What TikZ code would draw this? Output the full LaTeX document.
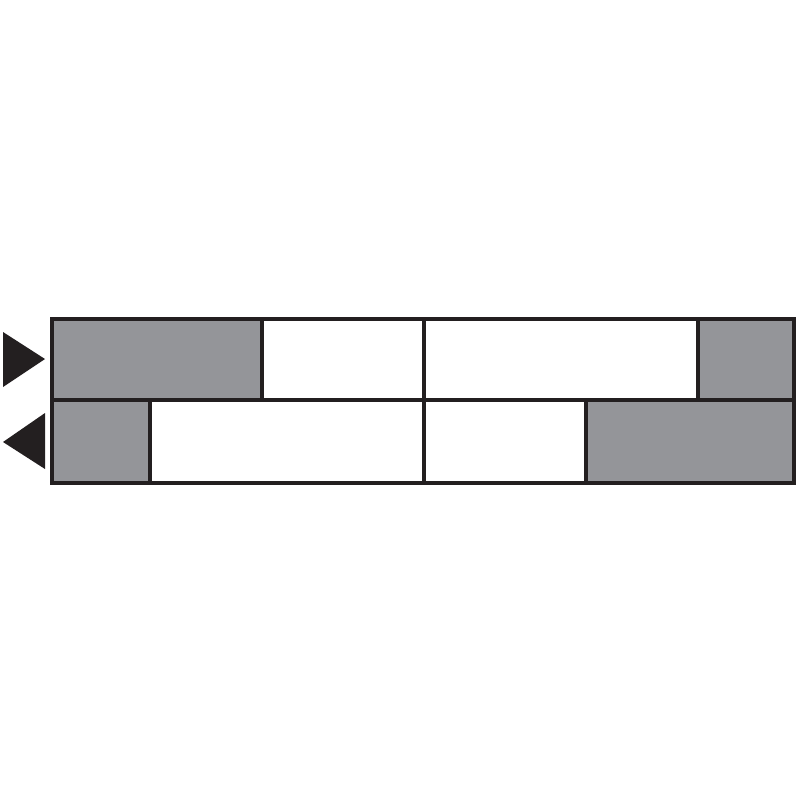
\documentclass[tikz,border=0pt]{standalone}
\usepackage{tikz}
\usetikzlibrary{positioning,calc}

\definecolor{cellgray}{RGB}{148,149,153}
\definecolor{ink}{RGB}{35,31,32}

\tikzset{
  cell/.style={draw=ink, line width=0.9pt},
  shaded/.style={cell, fill=cellgray},
  blank/.style={cell, fill=white},
  pointer/.style={fill=ink, draw=none}
}

\begin{document}
\begin{tikzpicture}[x=0.01cm, y=-0.01cm, line join=miter]
  \useasboundingbox (0,0) rectangle (800,800);
  % upper row
  \foreach \xa/\xb/\kind [count=\i] in {52/262/shaded, 262/424/blank, 424/698/blank, 698/794/shaded}
    \draw[\kind] (\xa,319) rectangle (\xb,400) coordinate (up\i);
  % lower row
  \foreach \xa/\xb/\kind [count=\i] in {52/150/shaded, 150/424/blank, 424/586/blank, 586/794/shaded}
    \draw[\kind] (\xa,400) rectangle (\xb,483) coordinate (lo\i);
  % outer frame
  \draw[cell, line width=1.2pt] (52,319) rectangle (794,483);
  % direction markers
  \fill[pointer] (3,332) -- (45,359) -- (3,387) -- cycle;
  \fill[pointer] (45,413) -- (3,442) -- (45,469) -- cycle;
\end{tikzpicture}
\end{document}
